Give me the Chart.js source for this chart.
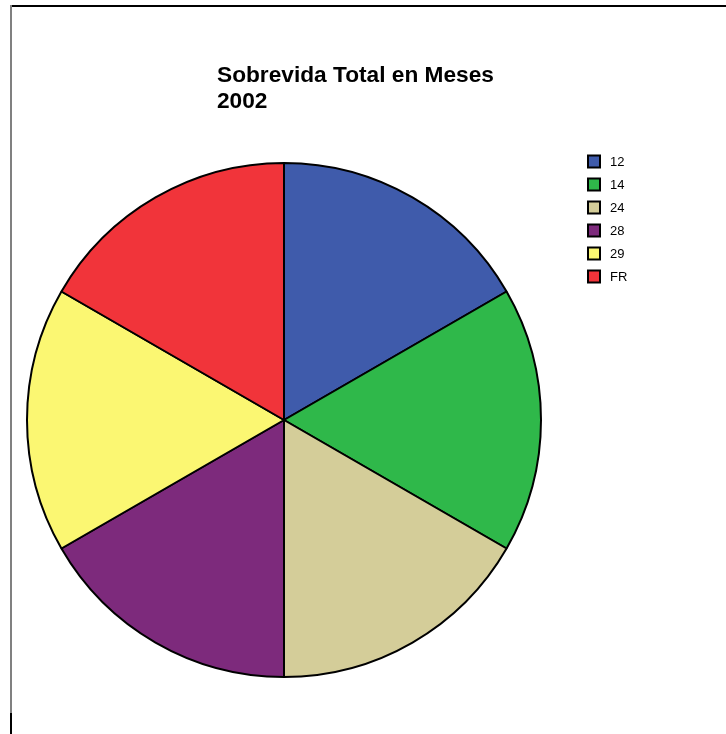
<!DOCTYPE html>
<html>
<head>
<meta charset="utf-8">
<script src="https://cdn.jsdelivr.net/npm/chart.js@4/dist/chart.umd.min.js"></script>
<style>
    html, body { margin: 0; padding: 0; background: #fff; }
    #wrap { position: relative; width: 726px; height: 734px; }
    #frame-top { position: absolute; left: 10px; top: 5px; width: 716px; height: 2px; background: #000; }
    #frame-left { position: absolute; left: 10px; top: 5px; width: 2px; height: 708px; background: #808080; }
    #frame-left-end { position: absolute; left: 10px; top: 713px; width: 2px; height: 21px; background: #000; }
    canvas { position: absolute; left: 0; top: 0; }
</style>
</head>
<body>
<div id="wrap">
    <canvas id="chart" width="726" height="734"></canvas>
    <div id="frame-top"></div>
    <div id="frame-left"></div>
    <div id="frame-left-end"></div>
</div>
<script>
const titleLines = ['Sobrevida Total en Meses', '2002'];
const categories = ['12', '14', '24', '28', '29', 'FR'];
const values = [1, 1, 1, 1, 1, 1];
const sliceColors = ['#3F5BAB', '#2FB84A', '#D4CD99', '#7D2A7C', '#FBF772', '#F1343A'];

// title and legend drawn by hand so they sit where the original has them
const sidePlugin = {
    id: 'sideText',
    afterDraw(chart) {
        const ctx = chart.ctx;
        ctx.save();
        ctx.fillStyle = '#000';
        ctx.textBaseline = 'alphabetic';
        ctx.textAlign = 'left';
        ctx.font = 'bold 22.7px "Liberation Sans", Arial, sans-serif';
        titleLines.forEach((line, i) => {
            ctx.fillText(line, 217, 82 + i * 26);
        });

        ctx.font = '13px "Liberation Sans", Arial, sans-serif';
        ctx.textBaseline = 'middle';
        const colors = chart.data.datasets[0].backgroundColor;
        chart.data.labels.forEach((label, i) => {
            const y = 161.5 + i * 23;
            ctx.fillStyle = colors[i];
            ctx.fillRect(588, y - 6, 12, 12);
            ctx.strokeStyle = '#000';
            ctx.lineWidth = 2;
            ctx.strokeRect(588, y - 6, 12, 12);
            ctx.fillStyle = '#000';
            ctx.fillText(label, 610, y + 1);
        });
        ctx.restore();
    }
};

new Chart(document.getElementById('chart'), {
    type: 'pie',
    data: {
        labels: categories,
        datasets: [{
            data: values,
            backgroundColor: sliceColors,
            borderColor: '#000',
            borderWidth: 2,
            hoverOffset: 0
        }]
    },
    options: {
        responsive: false,
        animation: false,
        layout: {
            padding: { left: 26, top: 162, right: 184, bottom: 56 }
        },
        plugins: {
            legend: { display: false },
            title: { display: false },
            tooltip: { enabled: false }
        }
    },
    plugins: [sidePlugin]
});
</script>
</body>
</html>
